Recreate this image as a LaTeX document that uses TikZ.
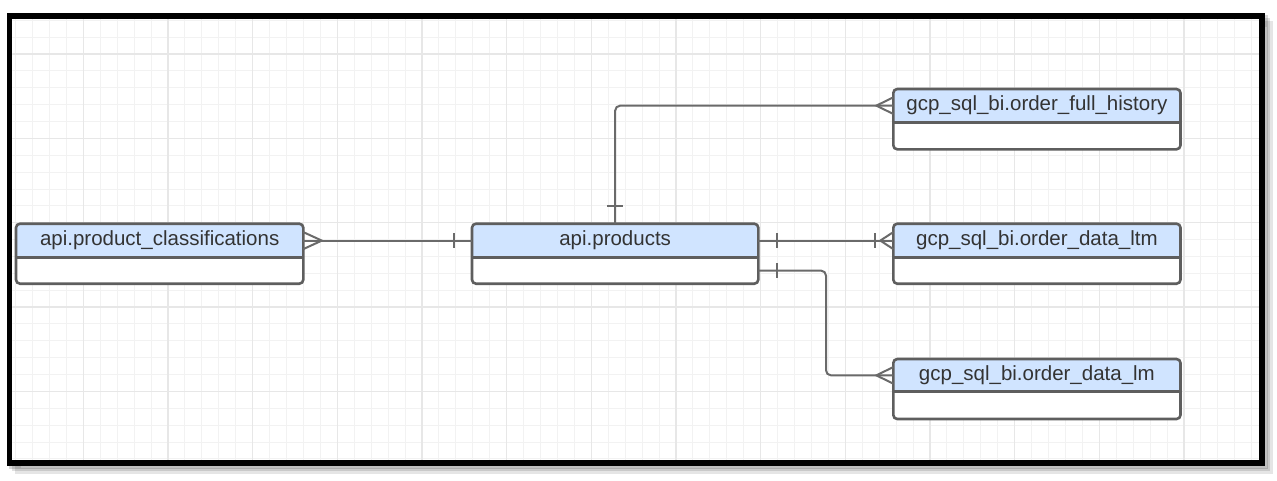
\documentclass[tikz,border=0pt]{standalone}
\usepackage{fontspec}
\setmainfont{Liberation Sans}
\usetikzlibrary{calc}
\definecolor{gridminor}{HTML}{F2F2F2}
\definecolor{gridmajor}{HTML}{E7E7E7}
\definecolor{hdr}{HTML}{D0E4FF}
\definecolor{edgec}{HTML}{5E5E5E}
\definecolor{connc}{HTML}{6A6A6A}
\definecolor{txtc}{HTML}{333333}
\newcommand\entity[7]{%
  \pgfmathsetmacro\ew{#4-#2}%
  \pgfmathsetmacro\hh{#5-#3}%
  \pgfmathsetmacro\bh{#6-#5}%
  \pgfmathsetmacro\cx{(#2+#4)/2}%
  \pgfmathsetmacro\hy{(#3+#5)/2}%
  \pgfmathsetmacro\by{(#5+#6)/2}%
  \begin{scope}
    \clip[rounded corners=4pt] (#2,#3) rectangle (#4,#6);
    \fill[white] (#2,#3) rectangle (#4,#6);
    \fill[hdr] (#2,#3) rectangle (#4,#5);
  \end{scope}
  \node[hbox, minimum width=\ew pt, minimum height=\hh pt] (#1h) at (\cx,\hy) {#7};
  \node[bbox, minimum width=\ew pt, minimum height=\bh pt] (#1b) at (\cx,\by) {};
  \draw[boxline, rounded corners=4pt] (#2,#3) rectangle (#4,#6);
  \draw[boxline] (#1h.south west) -- (#1h.south east);
}
\begin{document}
\begin{tikzpicture}[x=1pt,y=-1pt,
  hbox/.style={inner sep=0pt, outer sep=0pt, text=txtc, font=\fontsize{20.5}{24}\selectfont},
  bbox/.style={inner sep=0pt, outer sep=0pt},
  boxline/.style={draw=edgec, line width=2.6pt},
  conn/.style={draw=connc, line width=2pt},
  minorline/.style={draw=gridminor, line width=1pt},
  majorline/.style={draw=gridmajor, line width=1.3pt},
  framec/.style={draw=black, line width=5.6pt}]
\useasboundingbox (0,0) rectangle (1277,480);
\fill[white] (0,0) rectangle (1277,480);
% shadow
\draw[black, opacity=0.10, line width=6pt] (17.5,23.7) rectangle (1270,471);
\draw[black, opacity=0.12, line width=6pt] (14.5,20.7) rectangle (1267,468);
\draw[black, opacity=0.15, line width=6pt] (12,18.2) rectangle (1264.5,465.5);
% inner background and grid
\fill[white] (12.3,18.3) rectangle (1259.3,460.3);
\begin{scope}
  \clip (12.3,18.3) rectangle (1259.3,460.3);
  \foreach \j in {0,...,73} { \draw[minorline] ({15.6+16.933*\j},18) -- ({15.6+16.933*\j},461); }
  \foreach \j in {0,...,26} { \draw[minorline] (12,{20.3+16.87*\j}) -- (1260,{20.3+16.87*\j}); }
  \foreach \k in {0,...,13} { \draw[majorline] ({83.3+84.67*\k},18) -- ({83.3+84.67*\k},461); }
  \foreach \k in {0,...,4} { \draw[majorline] (12,{54+84.35*\k}) -- (1260,{54+84.35*\k}); }
\end{scope}
\draw[framec] (9.5,15.7) rectangle (1262.2,462.7);
% entities
\entity{pc}{16}{223.7}{303.3}{257.5}{283.7}{api.product\_classifications}
\entity{prod}{472}{223.7}{758.3}{257.5}{283.7}{api.products}
\entity{fh}{893.3}{89}{1180.5}{122.3}{149.3}{gcp\_sql\_bi.order\_full\_history}
\entity{ltm}{893.3}{223.7}{1180.5}{257.5}{283.7}{gcp\_sql\_bi.order\_data\_ltm}
\entity{lm}{893.3}{359}{1180.5}{391.7}{419}{gcp\_sql\_bi.order\_data\_lm}
% connectors
\draw[conn] (pch.east) -- (prodh.west);
\draw[conn] ($(pch.east)+(0,-8.5)$) -- ($(pch.east)+(18.5,0)$) -- ($(pch.east)+(0,8.5)$);
\draw[conn] ($(prodh.west)+(-18.5,-7.5)$) -- ($(prodh.west)+(-18.5,7.5)$);
\draw[conn, rounded corners=5pt] (prodh.north) |- (fhh.west);
\draw[conn] ($(prodh.north)+(-8,-17.7)$) -- ($(prodh.north)+(8,-17.7)$);
\draw[conn] ($(fhh.west)+(0,-8.3)$) -- ($(fhh.west)+(-17,0)$) -- ($(fhh.west)+(0,8.3)$);
\draw[conn] (prodh.east) -- (ltmh.west);
\draw[conn] ($(prodh.east)+(18.4,-7.5)$) -- ($(prodh.east)+(18.4,7.5)$);
\draw[conn] ($(ltmh.west)+(-18.3,-7.5)$) -- ($(ltmh.west)+(-18.3,7.5)$);
\draw[conn] ($(ltmh.west)+(0,-8.5)$) -- ($(ltmh.west)+(-13,0)$) -- ($(ltmh.west)+(0,8.5)$);
\coordinate (lmbend) at (826,0);
\draw[conn, rounded corners=5pt] (prodb.east) -- (prodb.east -| lmbend) |- (lmh.west);
\draw[conn] ($(prodb.east)+(18.4,-7.5)$) -- ($(prodb.east)+(18.4,7.5)$);
\draw[conn] ($(lmh.west)+(0,-8.3)$) -- ($(lmh.west)+(-17,0)$) -- ($(lmh.west)+(0,8.3)$);
\end{tikzpicture}
\end{document}
